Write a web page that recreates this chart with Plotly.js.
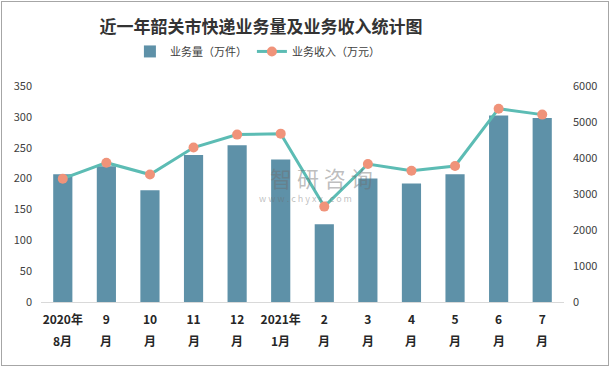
<!DOCTYPE html>
<html>
<head>
<meta charset="utf-8">
<script src="https://cdn.plot.ly/plotly-3.0.1.min.js"></script>
<style>
html,body{margin:0;padding:0;background:#fff;}
#wrap{position:relative;width:611px;height:369px;}
#chart{position:absolute;left:0;top:0;width:611px;height:369px;}
#frame{position:absolute;left:1px;top:1px;width:608px;height:365px;box-sizing:border-box;border:1px solid #a6a6a6;pointer-events:none;}
</style>
</head>
<body>
<div id="wrap"><div id="chart"></div><div id="frame"></div></div>
<script>
const categories = ['2020年8月','9月','10月','11月','12月','2021年1月','2月','3月','4月','5月','6月','7月'];
const labelLine1 = ['2020年','9','10','11','12','2021年','2','3','4','5','6','7'];
const labelLine2 = ['8月','月','月','月','月','1月','月','月','月','月','月','月'];
const volume = [207, 220, 181, 238, 254, 231, 126, 200, 192, 207, 302, 298];
const revenue = [3425, 3870, 3540, 4290, 4650, 4676, 2650, 3833, 3648, 3778, 5370, 5205];

const fontCJK = '"Noto Sans CJK SC", "Noto Sans", sans-serif';

const traces = [
  {
    type: 'bar', name: '业务量（万件）', x: categories, y: volume,
    marker: {color: '#5e91a8'}, yaxis: 'y', hoverinfo: 'skip'
  },
  {
    type: 'scatter', mode: 'lines+markers', name: '业务收入（万元）', x: categories, y: revenue,
    yaxis: 'y2', line: {color: '#5cbcb4', width: 3},
    marker: {color: '#f0937a', size: 10}, hoverinfo: 'skip'
  }
];

const annotations = categories.map((c, i) => ({
  x: c, xref: 'x', y: -0.18, yref: 'paper', text: '<b>' + labelLine2[i] + '</b>',
  showarrow: false, font: {family: fontCJK, size: 12, color: '#262626'}, yanchor: 'middle'
}));
annotations.push({
  x: 0.537, xref: 'paper', y: 0.58, yref: 'paper', text: '智 研 咨 询', showarrow: false,
  font: {family: fontCJK, size: 22, color: 'rgba(110,110,110,0.45)'}
});
annotations.push({
  x: 0.505, xref: 'paper', y: 0.48, yref: 'paper', text: 'w w w . c h y x x . c o m', showarrow: false,
  font: {family: fontCJK, size: 9, color: 'rgba(110,110,110,0.45)'}
});

const layout = {
  width: 611, height: 369,
  margin: {l: 41, r: 47, t: 86, b: 67},
  paper_bgcolor: '#ffffff', plot_bgcolor: '#ffffff',
  title: {
    text: '<b>近一年韶关市快递业务量及业务收入统计图</b>',
    x: 0.427, xanchor: 'center', y: 0.927, yanchor: 'middle',
    font: {family: fontCJK, size: 17, color: '#333333'}
  },
  showlegend: true,
  legend: {
    orientation: 'h', x: 0.17, xanchor: 'left', y: 1.16, yanchor: 'middle',
    font: {family: fontCJK, size: 11, color: '#404040'}, bgcolor: 'rgba(0,0,0,0)'
  },
  bargap: 0.56,
  xaxis: {
    type: 'category', range: [-0.5, categories.length - 0.5], autorange: false,
    tickmode: 'array', tickvals: categories, ticktext: labelLine1.map(s => '<b>' + s + '</b>'),
    showline: true, linecolor: '#d9d9d9', linewidth: 1, showgrid: false, zeroline: false,
    ticks: '', ticklabelstandoff: 7, automargin: false,
    tickfont: {family: fontCJK, size: 12, color: '#262626'}
  },
  yaxis: {
    range: [0, 350], dtick: 50, showgrid: false, zeroline: false, showline: false, ticks: '',
    ticklabelstandoff: 8, automargin: false,
    tickfont: {family: fontCJK, size: 11, color: '#404040'}
  },
  yaxis2: {
    range: [0, 6000], dtick: 1000, overlaying: 'y', side: 'right', showgrid: false, zeroline: false,
    showline: false, ticks: '', ticklabelstandoff: 8, automargin: false,
    tickfont: {family: fontCJK, size: 11, color: '#404040'}
  },
  annotations: annotations
};

Plotly.newPlot('chart', traces, layout, {displayModeBar: false, staticPlot: true});
</script>
</body>
</html>
